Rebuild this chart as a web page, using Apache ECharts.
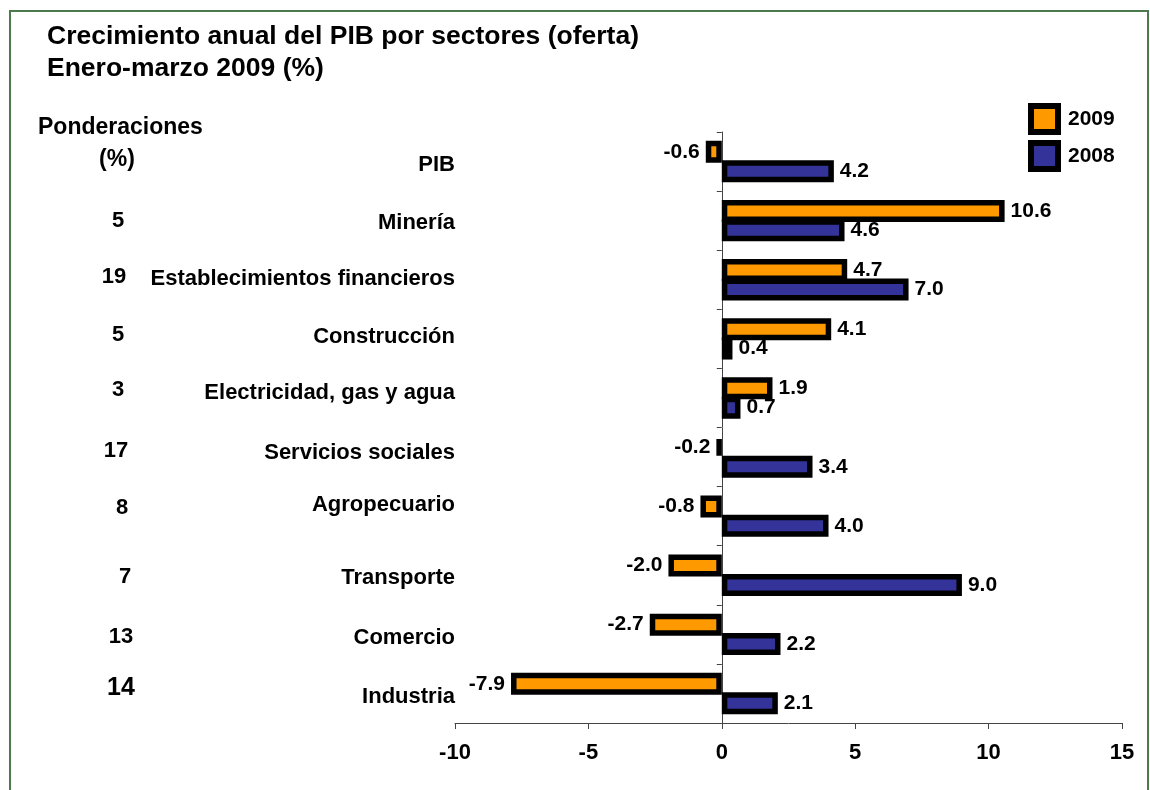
<!DOCTYPE html>
<html><head><meta charset="utf-8">
<script src="https://cdn.jsdelivr.net/npm/echarts@6/dist/echarts.min.js"></script>
<style>html,body{margin:0;padding:0;background:#fff}#c{width:1150px;height:790px}</style>
</head><body><div id="c"></div>
<script>
// ---- data ----
const categories = ['PIB', 'Minería', 'Establecimientos financieros', 'Construcción', 'Electricidad, gas y agua', 'Servicios sociales', 'Agropecuario', 'Transporte', 'Comercio', 'Industria'];
const ponderaciones = ['', '5', '19', '5', '3', '17', '8', '7', '13', '14'];
const values2009 = [-0.6, 10.6, 4.7, 4.1, 1.9, -0.2, -0.8, -2.0, -2.7, -7.9];
const values2008 = [4.2, 4.6, 7.0, 0.4, 0.7, 3.4, 4.0, 9.0, 2.2, 2.1];
const seriesNames = ['2009', '2008'];
const xMin = -10, xMax = 15, xStep = 5;

// ---- styling / layout ----
const FONT = 'Liberation Sans, Arial, sans-serif';
const catNudge = [3, 2, -1, -2, -5, -4, -11, 3, 4, 3];
const pondNudge = [0, 0, -3, -4, -8, -6, -8, 2, 3, -5];
const pondX = [0, -1, -5, -1, -1, -3, 3, 6, 2, 2];
function pad(n) { return n < 0 ? [0, 0, -2 * n, 0] : [2 * n, 0, 0, 0]; }
const catRich = {}, pondRich = {};
categories.forEach((c, i) => {
  catRich['c' + i] = { fontSize: 22, fontWeight: 'bold', color: '#000', fontFamily: FONT, padding: pad(catNudge[i]) };
  const pp = pad(pondNudge[i]);
  pondRich['p' + i] = {
    fontSize: i === categories.length - 1 ? 25 : 22, fontWeight: 'bold', color: '#000', fontFamily: FONT,
    width: 40, align: 'center', padding: [pp[0], 10 - pondX[i], pp[2], 0]
  };
});
function mkData(vals) {
  return vals.map(v => ({ value: v, label: { position: v < 0 ? 'left' : 'right' } }));
}
const labelCommon = {
  show: true, distance: 6, color: '#000', fontSize: 21, fontWeight: 'bold', fontFamily: FONT,
  formatter: p => Number(p.value).toFixed(1)
};

const chart = echarts.init(document.getElementById('c'), null, { renderer: 'canvas' });
chart.setOption({
  animation: false,
  backgroundColor: '#fff',
  title: {
    text: 'Crecimiento anual del PIB por sectores (oferta)\nEnero-marzo 2009 (%)',
    left: 47, top: 20, padding: 0,
    textStyle: { fontSize: 26.5, fontWeight: 'bold', color: '#000', fontFamily: FONT, lineHeight: 32.5 }
  },
  legend: {
    data: seriesNames, orient: 'vertical', left: 1028, top: 103, padding: 0,
    itemWidth: 27, itemHeight: 26, itemGap: 5, icon: 'rect',
    itemStyle: { borderColor: '#000', borderWidth: 6 },
    textStyle: { fontSize: 21, fontWeight: 'bold', color: '#000', fontFamily: FONT, padding: [0, 0, 0, 5] }
  },
  graphic: [
    { type: 'rect', silent: true, z: -1, shape: { x: 10, y: 11, width: 1138, height: 800 },
      style: { fill: 'none', stroke: '#4d7a4d', lineWidth: 2 } },
    { type: 'text', x: 38, y: 128, style: { text: 'Ponderaciones', fontSize: 23, fontWeight: 'bold', fontFamily: FONT, fill: '#000', verticalAlign: 'middle' } },
    { type: 'text', x: 117, y: 160, style: { text: '(%)', fontSize: 23, fontWeight: 'bold', fontFamily: FONT, fill: '#000', align: 'center', verticalAlign: 'middle' } }
  ],
  grid: { left: 455, right: 28, top: 132, bottom: 67, containLabel: false, outerBoundsMode: 'none' },
  xAxis: {
    type: 'value', min: xMin, max: xMax, interval: xStep,
    axisLine: { show: true, onZero: false, lineStyle: { color: '#444', width: 1 } },
    axisTick: { show: true, length: 6, lineStyle: { color: '#444' } },
    splitLine: { show: false },
    axisLabel: { fontSize: 22, fontWeight: 'bold', color: '#000', fontFamily: FONT, margin: 19 }
  },
  yAxis: [
    {
      type: 'category', inverse: true, position: 'left', data: categories,
      axisLine: { show: true, onZero: true, lineStyle: { color: '#444', width: 1 } },
      axisTick: { show: true, length: 5, lineStyle: { color: '#444' } },
      axisLabel: {
        fontSize: 22, fontWeight: 'bold', color: '#000', fontFamily: FONT, margin: 0, align: 'right',
        formatter: (v, i) => '{c' + i + '|' + v + '}', rich: catRich
      }
    },
    {
      type: 'category', inverse: true, position: 'left', data: categories,
      axisLine: { show: false, onZero: false },
      axisTick: { show: false },
      axisLabel: {
        fontSize: 22, fontWeight: 'bold', color: '#000', fontFamily: FONT, margin: 306, align: 'right',
        formatter: (v, i) => (ponderaciones[i] ? '{p' + i + '|' + ponderaciones[i] + '}' : ''),
        rich: pondRich
      }
    }
  ],
  series: [
    {
      name: seriesNames[0], type: 'bar', yAxisIndex: 0, data: mkData(values2009),
      barWidth: 22, barGap: '-12%',
      itemStyle: { color: '#FF9900', borderColor: '#000', borderWidth: 5.5 },
      label: labelCommon
    },
    {
      name: seriesNames[1], type: 'bar', yAxisIndex: 0, data: mkData(values2008),
      barWidth: 22, barGap: '-12%',
      itemStyle: { color: '#333399', borderColor: '#000', borderWidth: 5.5 },
      label: labelCommon
    }
  ]
});
</script></body></html>
